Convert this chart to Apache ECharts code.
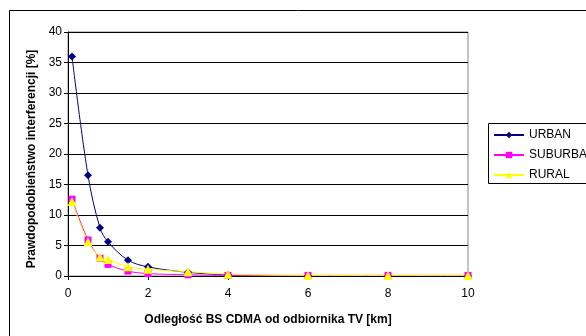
<!DOCTYPE html>
<html>
<head>
<meta charset="utf-8">
<script src="https://cdn.jsdelivr.net/npm/echarts@6/dist/echarts.min.js"></script>
<style>
html,body{margin:0;padding:0;background:#fff;}
#chart{width:586px;height:336px;}
</style>
</head>
<body>
<div id="chart"></div>
<script>
// odległości [km]
var distances = [0.1, 0.5, 0.8, 1, 1.5, 2, 3, 4, 6, 8, 10];
var urban = [36, 16.5, 7.9, 5.6, 2.6, 1.5, 0.6, 0.2, 0.05, 0, 0];
var suburban = [12.6, 5.9, 2.9, 1.9, 0.8, 0.4, 0.2, 0.1, 0.1, 0.1, 0.1];
var rural = [12.2, 5.6, 3.1, 2.7, 1.5, 1.1, 0.7, 0.3, 0.1, 0.1, 0.1];
var xTicks = [0, 2, 4, 6, 8, 10];
var yTicks = [0, 5, 10, 15, 20, 25, 30, 35, 40];

function pairs(vals){
	var out = [];
	for(var i=0;i<distances.length;i++){
		out.push([distances[i], vals[i]]);
	}
	return out;
}

var font = 'Liberation Sans, Arial, sans-serif';
var myChart = echarts.init(document.getElementById('chart'));

myChart.setOption({
	animation:false,
	textStyle:{fontFamily:font},
	graphic:[
		{type:'rect', shape:{x:9.5, y:10.5, width:700, height:400}, style:{fill:'none', stroke:'#000', lineWidth:1}},
		{type:'rect', shape:{x:488.5, y:123.5, width:200, height:60}, style:{fill:'#fff', stroke:'#000', lineWidth:1}, z:5}
	],
	grid:{
		left:68, top:32, right:118, bottom:60,
		show:true, borderColor:'#888', borderWidth:1
	},
	legend:{
		orient:'vertical',
		left:488, top:124,
		itemWidth:30, itemHeight:8, itemGap:8,
		z:10,
		textStyle:{fontFamily:font, fontSize:12, color:'#000'},
		data:['URBAN','SUBURBAN','RURAL']
	},
	xAxis:{
		type:'value',
		min:0, max:10, interval:xTicks[1]-xTicks[0],
		name:'Odległość BS CDMA od odbiornika TV [km]',
		nameLocation:'middle', nameGap:38,
		nameTextStyle:{fontWeight:'bold', fontSize:12, color:'#000', fontFamily:font},
		axisLine:{lineStyle:{color:'#000'}},
		axisTick:{show:true, length:4, lineStyle:{color:'#000'}},
		axisLabel:{fontSize:12, color:'#000', margin:12},
		splitLine:{show:false}
	},
	yAxis:{
		type:'value',
		min:0, max:40, interval:yTicks[1]-yTicks[0],
		name:'Prawdopodobieństwo interferencji [%]',
		nameLocation:'middle', nameGap:30, nameRotate:90,
		nameTextStyle:{fontWeight:'bold', fontSize:12, color:'#000', fontFamily:font, padding:[0,10,0,0]},
		axisLine:{show:true, lineStyle:{color:'#000'}},
		axisTick:{show:true, length:4, lineStyle:{color:'#000'}},
		axisLabel:{fontSize:12, color:'#000', margin:6},
		splitLine:{lineStyle:{color:'#000', width:1}}
	},
	series:[
		{
			name:'URBAN', type:'line', smooth:0.35,
			data:pairs(urban),
			symbol:'diamond', symbolSize:8,
			itemStyle:{color:'#000080'},
			lineStyle:{color:'#000080', width:1}
		},
		{
			name:'SUBURBAN', type:'line', smooth:0.35,
			data:pairs(suburban),
			symbol:'rect', symbolSize:7,
			itemStyle:{color:'#ff00ff'},
			lineStyle:{color:'#ff00ff', width:1}
		},
		{
			name:'RURAL', type:'line', smooth:0.35,
			data:pairs(rural),
			symbol:'triangle', symbolSize:9,
			itemStyle:{color:'#ffff00'},
			lineStyle:{color:'#ffff00', width:1}
		}
	]
});
</script>
</body>
</html>
